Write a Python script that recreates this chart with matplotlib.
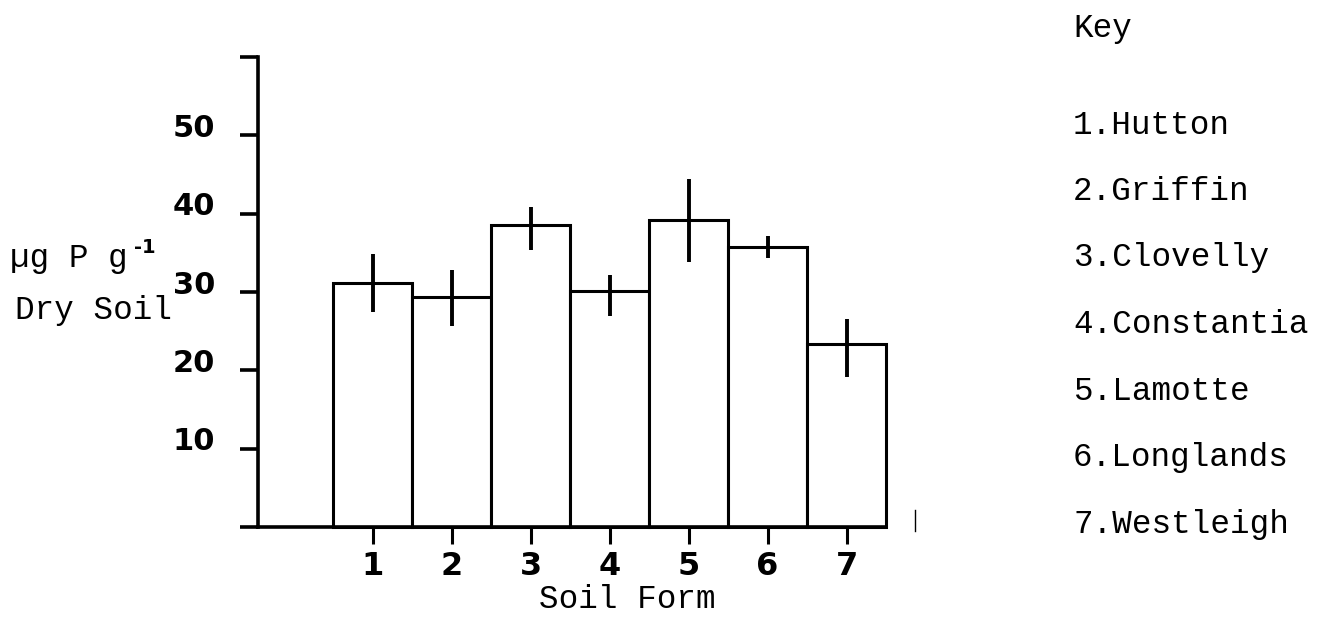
import matplotlib
matplotlib.use("Agg")
import matplotlib.pyplot as plt
import matplotlib.transforms as mtransforms
from matplotlib.lines import Line2D
import numpy as np

# ---- data ----
soil_forms = ["1", "2", "3", "4", "5", "6", "7"]
soil_names = ["Hutton", "Griffin", "Clovelly", "Constantia", "Lamotte", "Longlands", "Westleigh"]
p_values = [31.1, 29.3, 38.6, 30.1, 39.2, 35.8, 23.4]
err_low = [3.6, 3.6, 3.3, 3.1, 5.4, 1.4, 4.3]
err_high = [3.7, 3.5, 2.3, 2.1, 5.2, 1.4, 3.1]
y_ticks = [0, 10, 20, 30, 40, 50, 60]
y_ticklabels = ["", "10", "20", "30", "40", "50", ""]

W, H = 1319, 631
fig = plt.figure(figsize=(W / 100, H / 100), dpi=100)
fig.patch.set_facecolor("white")

ax_left, ax_right, ax_bottom, ax_top = 258, 886, 527, 57
ax = fig.add_axes([ax_left / W, 1 - ax_bottom / H, (ax_right - ax_left) / W, (ax_bottom - ax_top) / H])

x = np.arange(1, len(p_values) + 1)
ax.bar(x, p_values, width=1.0, color="white", edgecolor="black", linewidth=2.2, zorder=2,
       clip_on=False)
ax.errorbar(x, p_values, yerr=[err_low, err_high], fmt="none", ecolor="black",
            elinewidth=2.8, capsize=0, zorder=3)

ax.set_xlim(-0.45, 7.5)
ax.set_ylim(0, 60)

for s in ["top", "right"]:
    ax.spines[s].set_visible(False)
for s in ["left", "bottom"]:
    ax.spines[s].set_linewidth(2.6)
    ax.spines[s].set_capstyle("projecting")
    ax.spines[s].set_zorder(4)

num_font = dict(family="DejaVu Sans", weight="bold", size=22)
mono = "Liberation Mono"
msize = 23.5

ax.set_yticks(y_ticks)
ax.set_yticklabels(y_ticklabels, fontdict=num_font)
ax.tick_params(axis="y", direction="out", length=13, width=2.6, pad=18)
offset = mtransforms.ScaledTranslation(0, 0.10, fig.dpi_scale_trans)
for lab in ax.get_yticklabels():
    lab.set_transform(lab.get_transform() + offset)

ax.set_xticks(x)
ax.set_xticklabels(soil_forms, fontdict=dict(family="DejaVu Sans", weight="bold", size=23))
ax.tick_params(axis="x", direction="out", length=12, width=2.2, pad=5)

# y-axis label (two lines, typewriter style)
fig.text(10 / W, 1 - 259 / H, "\u00b5g P g", family=mono, size=msize, ha="left", va="center")
fig.text(134 / W, 1 - 248 / H, "-1", family="DejaVu Sans", weight="bold", size=14,
         ha="left", va="center")
fig.text(15 / W, 1 - 311 / H, "Dry Soil", family=mono, size=msize, ha="left", va="center")

# x-axis label
fig.text(627 / W, 1 - 600 / H, "Soil Form", family=mono, size=msize, ha="center", va="center")

# key
key_x = 1073 / W
fig.text(key_x, 1 - 28 / H, "Key", family=mono, size=msize, ha="left", va="center")
key_y0, key_dy = 125, 66.5
for i, (n, name) in enumerate(zip(soil_forms, soil_names)):
    fig.text(key_x, 1 - (key_y0 + i * key_dy) / H, f"{n}.{name}", family=mono, size=msize,
             ha="left", va="center")

# small stray scan mark to the right of the plot
fig.add_artist(Line2D([915 / W, 915 / W], [1 - 510 / H, 1 - 531 / H], color="black", lw=1.0))

fig.savefig("out.png", dpi=100, facecolor="white")
